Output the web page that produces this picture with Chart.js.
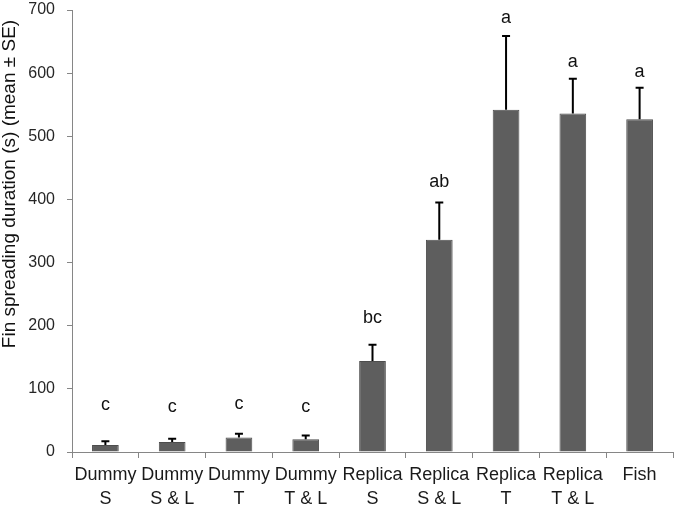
<!DOCTYPE html>
<html>
<head>
<meta charset="utf-8">
<script src="https://cdn.jsdelivr.net/npm/chart.js@4.4.0/dist/chart.umd.min.js"></script>
<style>
  html, body { margin: 0; padding: 0; background: #fff; }
  #wrap { width: 675px; height: 508px; position: relative; }
</style>
</head>
<body>
<div id="wrap"><canvas id="myChart"></canvas></div>
<script>
// data
const categories = [
    ['Dummy', 'S'], ['Dummy', 'S & L'], ['Dummy', 'T'], ['Dummy', 'T & L'],
    ['Replica', 'S'], ['Replica', 'S & L'], ['Replica', 'T'], ['Replica', 'T & L'], ['Fish']
];
const meanValues = [11, 16, 23, 20, 144, 336, 542, 536, 527];
const seValues = [6, 5, 6, 6, 26, 59, 117, 55, 50];
const groupLetters = ['c', 'c', 'c', 'c', 'bc', 'ab', 'a', 'a', 'a'];
const letterHeights = [74, 72, 76, 72, 212, 428, 688, 617, 601];
const yTitle = 'Fin spreading duration (s) (mean \u00b1 SE)';

const extras = {
    id: 'extras',
    afterDatasetsDraw(chart) {
        const ctx = chart.ctx;
        const x = chart.scales.x;
        const y = chart.scales.y;
        ctx.save();
        // error bars (upper side only)
        ctx.strokeStyle = '#000';
        ctx.lineWidth = 2;
        meanValues.forEach(function(v, i) {
            const px = x.getPixelForValue(i);
            const y0 = y.getPixelForValue(v);
            const y1 = y.getPixelForValue(v + seValues[i]);
            ctx.beginPath();
            ctx.moveTo(px, y0);
            ctx.lineTo(px, y1);
            ctx.moveTo(px - 4, y1);
            ctx.lineTo(px + 4, y1);
            ctx.stroke();
        });
        // significance letters
        ctx.fillStyle = '#111';
        ctx.font = '18px "Liberation Sans", Arial, sans-serif';
        ctx.textAlign = 'center';
        ctx.textBaseline = 'middle';
        groupLetters.forEach(function(t, i) {
            ctx.fillText(t, x.getPixelForValue(i), y.getPixelForValue(letterHeights[i]));
        });
        // y axis title
        ctx.translate(10, 184);
        ctx.rotate(-Math.PI / 2);
        ctx.font = '19px "Liberation Sans", Arial, sans-serif';
        ctx.fillText(yTitle, 0, 0);
        ctx.restore();
    }
};

const ctx = document.getElementById('myChart').getContext('2d');
const myChart = new Chart(ctx, {
    type: 'bar',
    data: {
        labels: categories,
        datasets: [{
            data: meanValues,
            backgroundColor: '#5e5e5e',
            borderColor: '#4d4d4d',
            borderWidth: 1,
            barPercentage: 0.4,
            categoryPercentage: 1.0
        }]
    },
    options: {
        responsive: true,
        maintainAspectRatio: false,
        animation: false,
        layout: { padding: { top: 10, right: 2, left: 0, bottom: 0 } },
        plugins: {
            legend: { display: false },
            tooltip: { enabled: false }
        },
        scales: {
            x: {
                grid: {
                    offset: true,
                    drawOnChartArea: false,
                    tickLength: 6,
                    color: '#868686'
                },
                border: { color: '#868686', width: 1 },
                ticks: {
                    color: '#1a1a1a',
                    font: { family: '"Liberation Sans", Arial, sans-serif', size: 18, lineHeight: 1.35 },
                    padding: 5,
                    maxRotation: 0,
                    autoSkip: false
                },
                afterFit: function(scale) {
                    scale.height = 56;
                    scale.paddingLeft = 0;
                    scale.paddingRight = 0;
                }
            },
            y: {
                min: 0,
                max: 700,
                ticks: {
                    stepSize: 100,
                    color: '#262626',
                    font: { family: '"Liberation Sans", Arial, sans-serif', size: 16 },
                    padding: 12
                },
                grid: {
                    drawOnChartArea: false,
                    tickLength: 5,
                    color: '#868686'
                },
                border: { color: '#868686', width: 1 },
                afterFit: function(scale) {
                    scale.width = 72;
                    scale.paddingTop = 0;
                    scale.paddingBottom = 0;
                }
            }
        }
    },
    plugins: [extras]
});
</script>
</body>
</html>
